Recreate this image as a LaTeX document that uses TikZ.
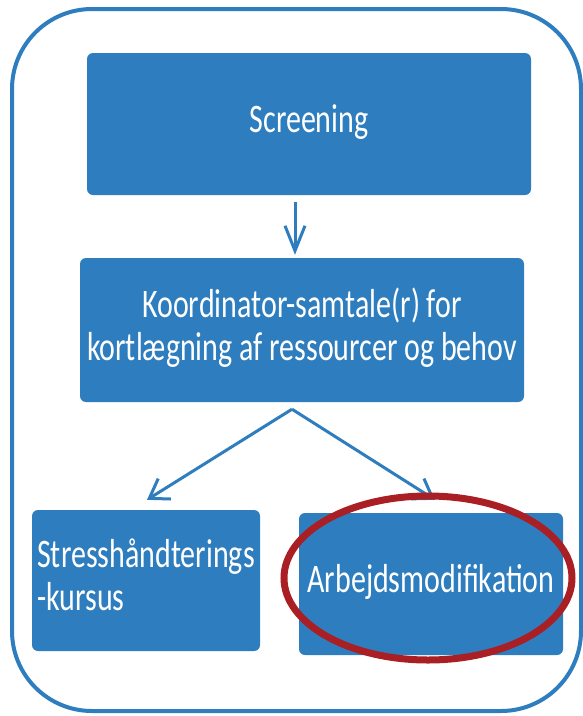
\documentclass[tikz,border=0pt]{standalone}
\usepackage{fontspec}
\setmainfont{Carlito}
\usepackage{graphicx}
\usetikzlibrary{arrows.meta,shapes.geometric}
\definecolor{boxblue}{RGB}{46,125,190}
\definecolor{ringred}{RGB}{169,31,36}
\newcommand{\tallbox}[2][c]{\scalebox{1}[1.35]{\begin{tabular}{@{}#1@{}}#2\end{tabular}}}

\tikzset{
  stepbox/.style={fill=boxblue, rounded corners=6pt, inner sep=0pt, text=white,
    font=\fontsize{30}{32}\selectfont},
  flow/.style={draw=boxblue, line width=3pt, -{Straight Barb[length=18pt,width=24pt]}},
}

\begin{document}
\begin{tikzpicture}
    % [x=1pt,y=1pt]
    [x=1pt,y=-1pt]
    \useasboundingbox (0,0) rectangle (583,716);

    \node[draw=boxblue, line width=4pt, rounded corners=80pt,
      minimum width=569pt, minimum height=702pt] (frame) at (296.5,360) {};

    \node[stepbox, minimum width=444pt, minimum height=142pt] (screen) at (309,124)
      {\tallbox{Screening}};
    \node[stepbox, minimum width=444pt, minimum height=144pt] (koord) at (302,330)
      {\tallbox{Koordinator-samtale(r) for\\kortlægning af ressourcer og behov}};
    \node[stepbox, minimum width=228pt, minimum height=141pt] (stress) at (146,580.5)
      {\tallbox[l]{Stresshåndterings\\-kursus}};
    \node[stepbox, minimum width=264pt, minimum height=142pt] (arbejd) at (431,584)
      {\tallbox{Arbejdsmodifikation}};

    \coordinate (split) at ([xshift=-10pt,yshift=-7pt]koord.south);

    \draw[flow, -{Straight Barb[length=25pt,width=20pt]}]
      ([xshift=-14pt,yshift=-7pt]screen.south) -- ([xshift=-7pt,yshift=3pt]koord.north);
    \draw[flow] (split) -- ([xshift=1pt,yshift=10pt]stress.north);
    \draw[flow] (split) -- ([xshift=4pt,yshift=13pt]arbejd.north);

    \node[draw=ringred, line width=7pt, ellipse, inner sep=0pt,
      minimum width=288pt, minimum height=164pt] (ring) at ([xshift=-3pt,yshift=6pt]arbejd.center) {};
  \end{tikzpicture}
\end{document}
